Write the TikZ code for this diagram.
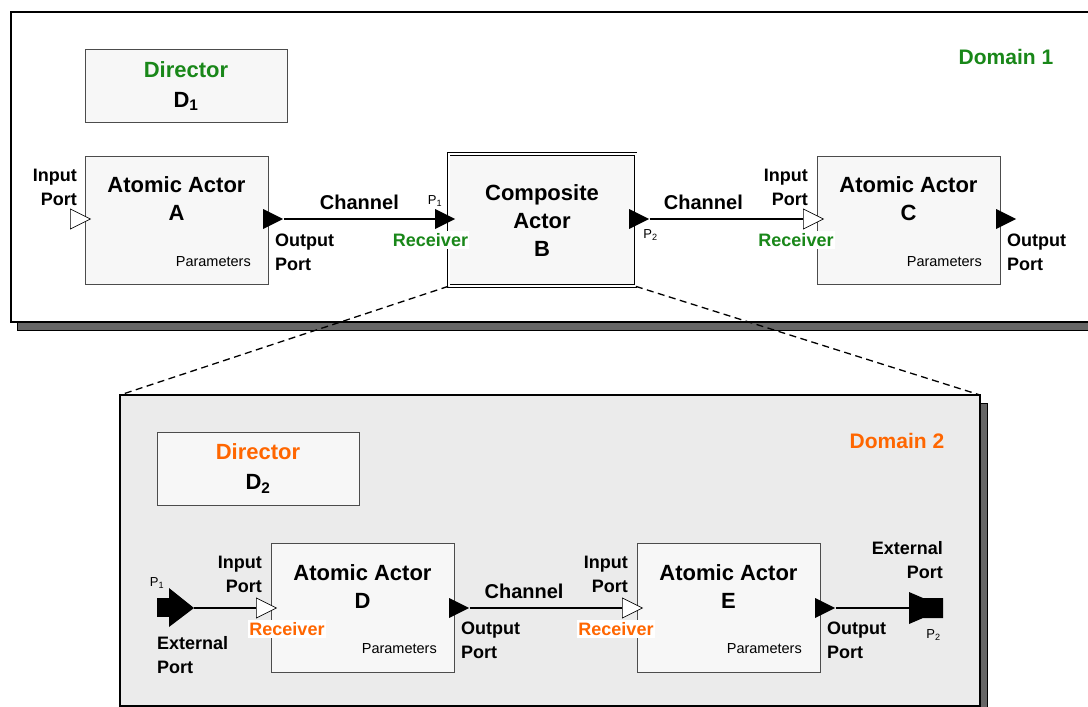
\documentclass[tikz,border=0pt]{standalone}
\usepackage{fontspec}
\setmainfont{Liberation Sans}
\usetikzlibrary{positioning,shapes.geometric}
\definecolor{dgreen}{RGB}{25,135,25}
\definecolor{dorange}{RGB}{255,102,0}

\begin{document}
\begin{tikzpicture}[x=1pt, y=-1pt, every node/.style={inner sep=0pt, font=\bfseries\fontsize{18}{24}\selectfont}]

\tikzstyle{domainbox}=[draw=black, line width=1.3pt]
\tikzstyle{dshadow}=[draw=black, fill=black!60, line width=0.8pt]
\tikzstyle{actbox}=[draw=black!70, fill=black!3, line width=0.9pt]
\tikzstyle{actor}=[actbox, minimum width=183pt, minimum height=128pt]
\tikzstyle{director}=[actbox, minimum width=202pt, minimum height=73pt, align=center, font=\bfseries\fontsize{22}{30}\selectfont]
\tikzstyle{acttitle}=[align=center, font=\bfseries\fontsize{22}{28}\selectfont]
\tikzstyle{param}=[anchor=east, font=\fontsize{14.5}{17}\selectfont]
\tikzstyle{lbl}=[align=left, anchor=west]
\tikzstyle{rlbl}=[align=right, anchor=east]
\tikzstyle{recv}=[fill=white, inner xsep=1pt, inner ysep=2pt]
\tikzstyle{plbl}=[font=\fontsize{13}{15}\selectfont]
\tikzstyle{chlbl}=[above=8pt, font=\bfseries\fontsize{20}{24}\selectfont]
\tikzstyle{oport}=[isosceles triangle, isosceles triangle stretches, minimum width=20pt, minimum height=20pt, fill=black, anchor=west]
\tikzstyle{iport}=[oport, draw=black, fill=white, line width=0.7pt]
\tikzstyle{channel}=[line width=2.6pt]
\tikzstyle{zoomline}=[dash pattern=on 7pt off 4.5pt, line width=1.3pt]

\useasboundingbox (0,0) rectangle (1088,707);
\clip (0,0) rectangle (1088,707);

% domain 1
\draw[dshadow] (17,20) rectangle (1100,330);
\draw[domainbox, fill=white] (11,12) rectangle (1100,322);
\node[font=\bfseries\fontsize{21}{24}\selectfont, text=dgreen] (dom1) at (1006,57) {Domain 1};
\node[director] (nd1) at (186,86) {\textcolor{dgreen}{Director}\\D\textsubscript{1}};

\node[actor] (na) at (176.5,220) {};
\node[acttitle] (na-t) at (176.5,199) {Atomic Actor\\A};
\node[param] (na-p) at (251,262) {Parameters};
\node[iport] (nai) at (70,219) {};
\node[oport] (nao) at (263,219) {};
\node[rlbl] (nai-l) at (77,187) {Input\\Port};
\node[lbl] (nao-l) at (275,252.5) {Output\\Port};

\node[actbox, draw=black, double, double distance=2pt, line width=0.8pt, minimum width=187pt, minimum height=132pt] (nb) at (542,220) {};
\node[acttitle] (nb-t) at (542,220.5) {Composite\\Actor\\B};
\node[oport] (nbi) at (435,219) {};
\node[oport] (nbo) at (629,219) {};
\node[plbl] (nbi-p) at (435,201) {P\textsubscript{1}};
\node[plbl] (nbo-p) at (650.5,235) {P\textsubscript{2}};
\node[recv, text=dgreen] (nbi-r) at (430.5,240) {Receiver};

\node[actor] (nc) at (908.5,220) {};
\node[acttitle] (nc-t) at (908.5,199) {Atomic Actor\\C};
\node[param] (nc-p) at (982,262) {Parameters};
\node[iport] (nci) at (803,219) {};
\node[oport] (nco) at (996,219) {};
\node[rlbl] (nci-l) at (808,187) {Input\\Port};
\node[recv, text=dgreen] (nci-r) at (796,240) {Receiver};
\node[lbl] (nco-l) at (1007,252.5) {Output\\Port};

\draw[channel] (nao.east) -- (nbi.west) node[midway, chlbl] (ch1) {Channel};
\draw[channel] (nbo.east) -- (nci.west) node[pos=0.35, chlbl] (ch2) {Channel};

% domain 2
\draw[dshadow] (127,403) rectangle (987,714);
\draw[domainbox, fill=black!8] (120,395) rectangle (980,706);
\coordinate (d2nw) at (120,395);
\coordinate (d2ne) at (980,395);
\draw[zoomline] (nb.south west) -- (d2nw);
\draw[zoomline] (nb.south east) -- (d2ne);

\node[font=\bfseries\fontsize{21}{24}\selectfont, text=dorange] (dom2) at (897,441) {Domain 2};
\node[director] (nd2) at (258,468.5) {\textcolor{dorange}{Director}\\D\textsubscript{2}};

\node[actor, minimum height=129pt] (nd) at (362.5,607.5) {};
\node[acttitle] (nd-t) at (362.5,587) {Atomic Actor\\D};
\node[param] (nd-p) at (437,649) {Parameters};
\node[iport] (ndi) at (256,608) {};
\node[oport] (ndo) at (449,608) {};
\node[rlbl] (ndi-l) at (262,574.5) {Input\\Port};
\node[recv, text=dorange] (ndi-r) at (287,629) {Receiver};
\node[lbl] (ndo-l) at (461,640.5) {Output\\Port};

\node[actor, minimum height=129pt] (ne) at (728.5,607.5) {};
\node[acttitle] (ne-t) at (728.5,587) {Atomic Actor\\E};
\node[param] (ne-p) at (802,649) {Parameters};
\node[iport] (nei) at (622,608) {};
\node[oport] (neo) at (815,608) {};
\node[rlbl] (nei-l) at (628,574.5) {Input\\Port};
\node[recv, text=dorange] (nei-r) at (616,629) {Receiver};
\node[lbl] (neo-l) at (827,640.5) {Output\\Port};

% external ports
\fill (157,598) rectangle (170,617);
\fill (169,588) -- (194,608) -- (169,627) -- cycle;
\coordinate (nx1) at (194,608);
\node[plbl] (nx1-p) at (157,583) {P\textsubscript{1}};
\node[lbl] (nx1-l) at (157,655.5) {External\\Port};

\fill (909,592) -- (923,598) -- (943,598) -- (943,618) -- (923,618) -- (909,624) -- cycle;
\coordinate (nx2) at (909,608);
\node[plbl] (nx2-p) at (933.5,635) {P\textsubscript{2}};
\node[rlbl] (nx2-l) at (943,560) {External\\Port};

\draw[channel, line width=2.2pt] (nx1) -- (ndi.west);
\draw[channel, line width=2.2pt] (ndo.east) -- (nei.west) node[pos=0.357, chlbl] (ch3) {Channel};
\draw[channel, line width=2.2pt] (neo.east) -- (nx2);
\end{tikzpicture}
\end{document}
